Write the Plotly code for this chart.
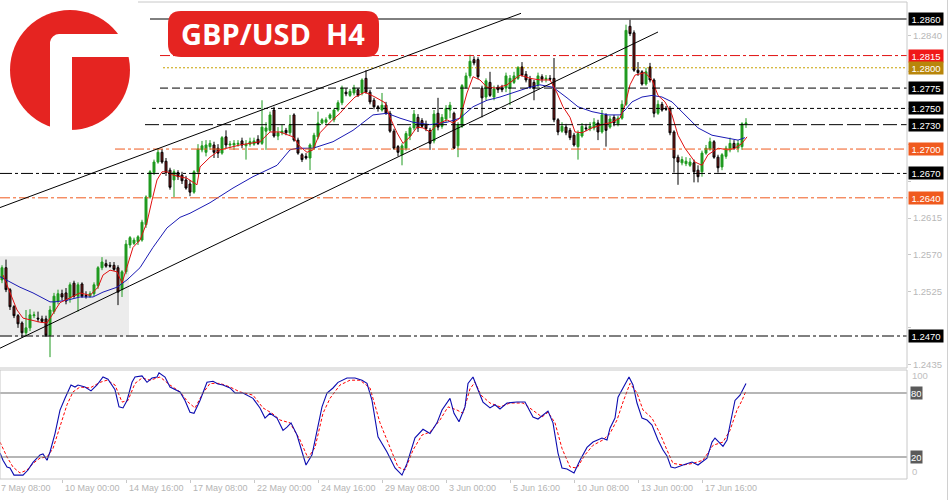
import plotly.graph_objects as go

# ---------------- data ----------------
bar_idx = list(range(1, 188))
bar_open = [1.2539,1.2554,1.2527,1.2506,1.2495,1.2486,1.2474,1.2480,1.2495,1.2492,1.2491,1.2491,1.2471,1.2500,1.2513,1.2522,1.2523,1.2517,1.2535,1.2519,
1.2534,1.2520,1.2519,1.2522,1.2532,1.2554,1.2559,1.2557,1.2557,1.2554,1.2527,1.2549,1.2582,1.2584,1.2586,1.2588,1.2607,1.2641,1.2671,1.2684,
1.2696,1.2685,1.2674,1.2662,1.2671,1.2668,1.2662,1.2657,1.2647,1.2672,1.2699,1.2696,1.2703,1.2705,1.2701,1.2695,1.2715,1.2705,1.2705,1.2706,
1.2710,1.2704,1.2706,1.2706,1.2712,1.2707,1.2722,1.2723,1.2748,1.2716,1.2720,1.2723,1.2720,1.2742,1.2711,1.2693,1.2691,1.2689,1.2701,1.2715,
1.2732,1.2733,1.2738,1.2736,1.2748,1.2757,1.2770,1.2766,1.2769,1.2773,1.2769,1.2787,1.2770,1.2760,1.2752,1.2748,1.2754,1.2744,1.2722,1.2703,
1.2693,1.2701,1.2716,1.2726,1.2739,1.2735,1.2730,1.2723,1.2710,1.2744,1.2728,1.2737,1.2748,1.2744,1.2704,1.2728,1.2776,1.2790,1.2810,1.2810,
1.2775,1.2764,1.2782,1.2764,1.2776,1.2775,1.2775,1.2775,1.2782,1.2787,1.2801,1.2792,1.2786,1.2782,1.2779,1.2789,1.2786,1.2787,1.2787,1.2736,
1.2722,1.2727,1.2723,1.2717,1.2703,1.2716,1.2726,1.2725,1.2726,1.2732,1.2721,1.2742,1.2727,1.2739,1.2731,1.2738,1.2755,1.2851,1.2843,1.2797,
1.2795,1.2780,1.2801,1.2785,1.2744,1.2755,1.2750,1.2750,1.2721,1.2690,1.2683,1.2682,1.2680,1.2683,1.2674,1.2672,1.2695,1.2700,1.2709,1.2690,
1.2678,1.2691,1.2699,1.2707,1.2701,1.2703,1.2731]
bar_high = [1.2557,1.2564,1.2529,1.2508,1.2497,1.2488,1.2502,1.2503,1.2500,1.2500,1.2495,1.2495,1.2507,1.2523,1.2527,1.2527,1.2529,1.2536,1.2538,1.2536,
1.2536,1.2525,1.2525,1.2536,1.2556,1.2567,1.2564,1.2561,1.2561,1.2557,1.2551,1.2588,1.2593,1.2591,1.2594,1.2613,1.2643,1.2674,1.2687,1.2701,
1.2700,1.2689,1.2677,1.2675,1.2674,1.2672,1.2667,1.2662,1.2674,1.2706,1.2710,1.2711,1.2711,1.2709,1.2706,1.2716,1.2723,1.2710,1.2711,1.2711,
1.2714,1.2711,1.2714,1.2714,1.2717,1.2760,1.2733,1.2746,1.2752,1.2727,1.2730,1.2726,1.2742,1.2744,1.2714,1.2695,1.2695,1.2707,1.2720,1.2746,
1.2738,1.2739,1.2744,1.2750,1.2760,1.2778,1.2775,1.2774,1.2779,1.2775,1.2787,1.2797,1.2773,1.2763,1.2754,1.2769,1.2758,1.2747,1.2725,1.2705,
1.2707,1.2722,1.2728,1.2748,1.2743,1.2738,1.2735,1.2726,1.2748,1.2763,1.2743,1.2754,1.2758,1.2746,1.2733,1.2780,1.2794,1.2816,1.2814,1.2813,
1.2778,1.2787,1.2795,1.2778,1.2779,1.2779,1.2794,1.2791,1.2795,1.2802,1.2807,1.2796,1.2790,1.2785,1.2794,1.2792,1.2791,1.2791,1.2812,1.2738,
1.2733,1.2731,1.2726,1.2720,1.2723,1.2732,1.2731,1.2733,1.2738,1.2736,1.2748,1.2744,1.2741,1.2742,1.2741,1.2760,1.2853,1.2859,1.2846,1.2807,
1.2797,1.2800,1.2806,1.2787,1.2760,1.2758,1.2753,1.2753,1.2723,1.2693,1.2691,1.2690,1.2689,1.2687,1.2680,1.2698,1.2705,1.2714,1.2711,1.2693,
1.2695,1.2704,1.2714,1.2711,1.2711,1.2733,1.2738]
bar_low = [1.2535,1.2524,1.2502,1.2492,1.2480,1.2468,1.2470,1.2476,1.2492,1.2487,1.2486,1.2469,1.2444,1.2497,1.2509,1.2514,1.2509,1.2511,1.2517,1.2500,
1.2517,1.2516,1.2517,1.2519,1.2528,1.2551,1.2554,1.2554,1.2550,1.2508,1.2518,1.2546,1.2578,1.2582,1.2582,1.2586,1.2603,1.2639,1.2668,1.2682,
1.2682,1.2667,1.2650,1.2641,1.2662,1.2657,1.2650,1.2642,1.2645,1.2669,1.2696,1.2691,1.2699,1.2689,1.2689,1.2693,1.2701,1.2701,1.2699,1.2703,
1.2701,1.2687,1.2703,1.2704,1.2705,1.2705,1.2699,1.2721,1.2714,1.2711,1.2717,1.2717,1.2717,1.2709,1.2693,1.2684,1.2687,1.2674,1.2699,1.2712,
1.2730,1.2731,1.2736,1.2733,1.2746,1.2754,1.2765,1.2764,1.2766,1.2764,1.2766,1.2768,1.2755,1.2749,1.2746,1.2746,1.2742,1.2720,1.2699,1.2691,
1.2680,1.2698,1.2711,1.2723,1.2721,1.2726,1.2722,1.2699,1.2707,1.2723,1.2725,1.2733,1.2738,1.2700,1.2690,1.2726,1.2774,1.2787,1.2803,1.2786,
1.2739,1.2760,1.2764,1.2760,1.2769,1.2770,1.2770,1.2754,1.2780,1.2785,1.2789,1.2782,1.2774,1.2760,1.2776,1.2782,1.2782,1.2784,1.2733,1.2717,
1.2720,1.2717,1.2711,1.2703,1.2687,1.2714,1.2722,1.2722,1.2723,1.2711,1.2719,1.2703,1.2725,1.2728,1.2728,1.2736,1.2753,1.2839,1.2795,1.2790,
1.2778,1.2778,1.2782,1.2739,1.2742,1.2746,1.2747,1.2717,1.2671,1.2656,1.2680,1.2679,1.2678,1.2659,1.2659,1.2666,1.2693,1.2698,1.2688,1.2671,
1.2674,1.2688,1.2696,1.2699,1.2696,1.2699,1.2726]
bar_close = [1.2554,1.2527,1.2506,1.2495,1.2485,1.2474,1.2480,1.2496,1.2496,1.2491,1.2488,1.2471,1.2502,1.2519,1.2522,1.2518,1.2513,1.2533,1.2519,1.2533,
1.2519,1.2519,1.2522,1.2533,1.2554,1.2561,1.2556,1.2556,1.2552,1.2524,1.2549,1.2583,1.2591,1.2588,1.2592,1.2610,1.2641,1.2672,1.2684,1.2696,
1.2684,1.2671,1.2653,1.2672,1.2666,1.2661,1.2652,1.2647,1.2672,1.2700,1.2704,1.2705,1.2707,1.2696,1.2695,1.2714,1.2705,1.2706,1.2707,1.2707,
1.2705,1.2706,1.2709,1.2710,1.2707,1.2727,1.2726,1.2742,1.2716,1.2720,1.2722,1.2720,1.2730,1.2711,1.2695,1.2687,1.2689,1.2705,1.2717,1.2732,
1.2736,1.2736,1.2742,1.2748,1.2757,1.2775,1.2768,1.2771,1.2775,1.2766,1.2785,1.2770,1.2758,1.2752,1.2750,1.2754,1.2744,1.2722,1.2701,1.2696,
1.2704,1.2719,1.2726,1.2743,1.2726,1.2728,1.2725,1.2707,1.2743,1.2727,1.2739,1.2750,1.2754,1.2701,1.2730,1.2778,1.2790,1.2808,1.2806,1.2789,
1.2763,1.2784,1.2766,1.2774,1.2773,1.2773,1.2790,1.2787,1.2790,1.2800,1.2791,1.2785,1.2776,1.2775,1.2790,1.2786,1.2787,1.2786,1.2736,1.2721,
1.2728,1.2720,1.2714,1.2705,1.2719,1.2728,1.2725,1.2728,1.2733,1.2721,1.2742,1.2723,1.2737,1.2732,1.2738,1.2755,1.2846,1.2842,1.2797,1.2794,
1.2780,1.2795,1.2785,1.2744,1.2755,1.2748,1.2749,1.2720,1.2689,1.2684,1.2687,1.2685,1.2684,1.2672,1.2666,1.2695,1.2701,1.2709,1.2690,1.2677,
1.2693,1.2701,1.2707,1.2701,1.2707,1.2731,1.2732]

ma_slow_x = [0.5,3,5.5,8.75,13,14.25,17.25,20.5,23.75,26.25,29.75,32.25,35.5,38.75,42.25,45.5,48,53,58.75,63.75,69.75,73,74.75,78.75,83.75,88.75,
93.75,97.25,100.5,103.75,108,112.25,115.5,118.75,122.25,125.5,128.75,132.25,135.5,138.75,142.25,145,148.5,152.5,155.5,156.75,158.5,161,163.5,
166,168.5,171.75,175,178.5,181.75,185,186.75]
ma_slow = [1.2543,1.2536,1.2530,1.2523,1.2512,1.2512,1.2514,1.2518,1.2518,1.2524,1.2530,1.2539,1.2554,1.2579,1.2603,1.2616,1.2621,1.2634,1.2652,
1.2666,1.2680,1.2699,1.2701,1.2701,1.2709,1.2723,1.2742,1.2744,1.2738,1.2733,1.2730,1.2733,1.2738,1.2752,1.2760,1.2764,1.2769,1.2775,1.2779,
1.2776,1.2763,1.2752,1.2746,1.2742,1.2742,1.2748,1.2758,1.2764,1.2766,1.2764,1.2758,1.2742,1.2726,1.2717,1.2714,1.2711,1.2714]

ma_fast_x = [1.25,3,4.75,6.25,8,10.5,12.25,13.75,15.5,18,20.5,23,25,26.25,28,29.75,31,32.25,33.75,35.5,37.25,38.5,39.75,41,42.25,43.75,47.25,
49.75,50.5,53,55.5,60.5,65.5,68,70.5,73.75,75.5,77.25,78.75,80.5,83,85.5,87.25,89.25,91.75,94.25,96.75,98,99.75,101.25,103,104.75,106.25,108,
109.75,112.25,113.75,115.5,117.25,118.75,120.5,122.25,124.75,127.25,130.5,133,135.5,138,139.75,141.25,143,144.25,146,148.5,151,153.5,155.5,
156.75,158,159.25,161.75,163.5,165,166.75,168.5,170,171.75,174.25,176,177.5,180,182.5,184.25,186,187.25]
ma_fast = [1.2545,1.2523,1.2502,1.2492,1.2490,1.2487,1.2486,1.2498,1.2511,1.2517,1.2523,1.2520,1.2530,1.2545,1.2551,1.2549,1.2535,1.2555,1.2579,
1.2588,1.2610,1.2637,1.2662,1.2672,1.2672,1.2668,1.2664,1.2656,1.2678,1.2690,1.2699,1.2705,1.2709,1.2721,1.2721,1.2715,1.2703,1.2696,1.2699,
1.2720,1.2733,1.2744,1.2754,1.2764,1.2770,1.2764,1.2757,1.2739,1.2720,1.2707,1.2715,1.2727,1.2726,1.2721,1.2730,1.2736,1.2732,1.2738,1.2769,
1.2789,1.2785,1.2776,1.2775,1.2779,1.2791,1.2787,1.2785,1.2785,1.2769,1.2752,1.2739,1.2721,1.2720,1.2726,1.2730,1.2733,1.2738,1.2754,1.2779,
1.2791,1.2794,1.2785,1.2766,1.2758,1.2742,1.2717,1.2701,1.2684,1.2680,1.2693,1.2701,1.2699,1.2701,1.2707,1.2715]

stoch_main_x = [0.5,1.25,2.25,3,4,6.25,7.5,8.75,10.5,11.25,12.25,13,14.25,15.5,16.75,18.25,19.25,20,21.75,23.25,24.75,26.25,27.5,29.25,30.25,
31.25,32.25,33.5,34.25,36,37.25,38.5,39.75,40.25,41.75,43,45.5,46.75,48,49,50.5,52.25,53.75,55,56.25,58,59.25,61.25,63.75,65.5,66.75,68,69.75,
71.25,72.25,73.25,74.75,76,77,78.5,79.75,81,82.25,83.75,85,87.25,89.25,91,92.25,93.5,95,97.25,99.25,101,102.25,104.25,106.25,108,109.75,111,
113,114,115.25,116.75,117.5,118.75,120,121.25,123,124.25,125.5,127.25,129.75,131.75,133.75,135,137.5,138.75,140,141,142.25,144,145.5,147.25,
148.75,151,152.25,153,154.25,155,156.25,157.75,158.75,159.75,161,162.25,163.5,165,166.25,167.25,168.25,169.25,171.25,173.5,175,177.25,178.5,
179.25,181.25,182.25,183,184.25,185.5,187]
stoch_main = [23.7,17,10.6,9.7,3,3,7.8,15,22,22.8,17,24.7,42,64,75,87.5,85.6,87.5,85.6,82,87.5,95,93,83,67,66,73,90,95,96,90,94,95,99,95,85.6,
81,73,62,61,73,90,91,88.4,87.5,84.7,80,80,75,66,56.5,61,56.5,45,48,52,40.6,23.7,12.5,22,45,67,80,84.7,90,94,94,92,89,73,39,24.7,9.7,3,14,38,
46,42,52,64,75,61,53,67,89,95,83,71.5,66,69,65,70.6,71.5,71.5,57.5,55.6,63,52,23.7,9.7,8.7,5,17,29,34,37.8,36,47,56.5,76,84.7,95,87.5,70.6,
56.5,54.7,50,36,26.5,21,10.6,9.7,12.5,15.3,12.5,19,34,37.8,30,36,50,73,78,89]

stoch_sig_x = [0.5,2.25,3.75,5.5,7.25,8.75,10.5,12.25,13.75,15.5,17.25,18.75,20.5,23,25.5,27.25,29.25,31,32.5,34.25,36,38,40.5,43,45.5,47.5,
49.25,51.25,53,55.5,58,60.5,63.75,66.25,68.5,70.5,73,75.5,77.5,79.25,81.25,83,85.5,88,90.5,93,95.5,98,100,101.75,103.75,106,108,110.5,112.5,
114.75,116.25,118,119.25,120.75,123,125.5,128,131.25,133.75,136,137.5,139.25,141,143,144.75,146.75,148.75,151.25,153,154.75,156.25,158,
159.75,161.25,163.5,165.5,167.25,168.75,171.25,173.75,176.25,178.75,181.25,183,184.75,186,187]
stoch_sig = [34,20,10.6,5,7.8,14,19,20,28,48,69,81,85.6,84.7,90,92,87.5,71.5,73,89,94,92,95,87.5,81,71.5,66,80,89,89,85.6,81,78,66,61,54.7,52,
36,19,29,61,75,87.5,92,92,84.7,52,29,10.6,7.8,26.5,40.6,43.4,54.7,67,64,61,84,90,78,70.6,67,70.6,70.6,64,57.5,62,52,28,10.6,9.7,22,31,36,42,
54.7,71.5,89,80,64,56.5,42,26.5,14,12.5,14,17,31,34,45,64,73,82]

level_price = [1.2860, 1.2815, 1.2800, 1.2775, 1.2750, 1.2730, 1.2700, 1.2670, 1.2640, 1.2470]
level_start = [38, 40.5, 41.25, 40.5, 38.5, 36.75, 29.25, 0.5, 0.5, 0.5]
level_color = ["#000000", "#e01010", "#c8a000", "#000000", "#000000", "#000000", "#f05a1e", "#000000", "#f05a1e", "#000000"]
level_dash = ["solid", "10px,3px,3px,3px", "2px,2px", "8px,4px", "4px,3px", "14px,4px", "10px,3px,3px,3px",
              "12px,3px,3px,3px", "10px,3px,3px,3px", "12px,3px,3px,3px"]
level_label_bg = ["#000000", "#f01818", "#b8860b", "#000000", "#000000", "#000000", "#f05a1e", "#000000", "#f05a1e", "#000000"]

axis_ticks = [1.2435, 1.2480, 1.2525, 1.2570, 1.2615, 1.2660, 1.2705, 1.2750, 1.2795, 1.2840]
axis_tick_text = ["1.2435", "", "1.2525", "1.2570", "1.2615", "", "", "", "", "1.2840"]

trend_x = [[0.5, 130.75], [0.5, 165.0]]
trend_y = [[1.2628, 1.2867], [1.2455, 1.2844]]

zone_x = [0.5, 32.75]
zone_y = [1.2469, 1.2568]

time_tick_idx = [0, 16, 32, 48, 64, 80, 96, 112, 128, 144, 160, 176]
time_tick_lbl = ["7 May 08:00", "10 May 00:00", "14 May 16:00", "17 May 08:00", "22 May 00:00", "24 May 16:00",
                 "29 May 08:00", "3 Jun 00:00", "5 Jun 16:00", "10 Jun 08:00", "13 Jun 00:00", "17 Jun 16:00"]

# ---------------- layout helpers ----------------
W, H = 950, 500
ML, MR, MT, MB = 0, 43, 2, 21
PW, PH = W - ML - MR, H - MT - MB
def pxx(x):
    return (x - ML) / PW
def pxy(y):
    return (H - MB - y) / PH

X_RANGE = [0.5, 227.25]
P_RANGE = [1.243063, 1.288091]
S_RANGE = [-0.625, 101.56]
def bar2paper(i):
    return (i - X_RANGE[0]) / (X_RANGE[1] - X_RANGE[0])

fig = go.Figure()

fig.add_trace(go.Candlestick(
    x=bar_idx, open=bar_open, high=bar_high, low=bar_low, close=bar_close,
    increasing=dict(line=dict(color="#1f9a1f", width=1), fillcolor="#1f9a1f"),
    decreasing=dict(line=dict(color="#000000", width=1), fillcolor="#8b1a1a"),
    whiskerwidth=0, hoverinfo="skip", xaxis="x", yaxis="y", showlegend=False))

fig.add_trace(go.Scatter(x=ma_slow_x, y=ma_slow, mode="lines", line=dict(color="#1a1ab4", width=1),
                         hoverinfo="skip", showlegend=False, xaxis="x", yaxis="y"))
fig.add_trace(go.Scatter(x=ma_fast_x, y=ma_fast, mode="lines", line=dict(color="#e01010", width=1),
                         hoverinfo="skip", showlegend=False, xaxis="x", yaxis="y"))

fig.add_trace(go.Scatter(x=stoch_sig_x, y=stoch_sig, mode="lines", line=dict(color="#ff0000", width=1, dash="3px,2px"),
                         hoverinfo="skip", showlegend=False, xaxis="x2", yaxis="y2"))
fig.add_trace(go.Scatter(x=stoch_main_x, y=stoch_main, mode="lines", line=dict(color="#0c0cb0", width=1.1),
                         hoverinfo="skip", showlegend=False, xaxis="x2", yaxis="y2"))

shapes = []
annotations = []

# zone rectangle
shapes.append(dict(type="rect", xref="x", yref="y", x0=zone_x[0], x1=zone_x[1], y0=zone_y[0], y1=zone_y[1],
                   fillcolor="#ececec", line=dict(width=0), layer="below"))

# horizontal levels
for p, s, c, d in zip(level_price, level_start, level_color, level_dash):
    shapes.append(dict(type="line", xref="x", yref="y", x0=s, x1=X_RANGE[1], y0=p, y1=p,
                       line=dict(color=c, width=1, dash=d)))

# trend lines
for tx, ty in zip(trend_x, trend_y):
    shapes.append(dict(type="line", xref="x", yref="y", x0=tx[0], x1=tx[1], y0=ty[0], y1=ty[1],
                       line=dict(color="#000000", width=1)))

# stochastic levels
for v in (80, 20):
    shapes.append(dict(type="line", xref="paper", yref="y2", x0=0, x1=1, y0=v, y1=v,
                       line=dict(color="#6e6e6e", width=1.2)))

# frames
border = "#c8c8c8"
shapes.append(dict(type="line", xref="paper", yref="paper", x0=pxx(138), x1=1, y0=pxy(2), y1=pxy(2), line=dict(color=border, width=1)))
shapes.append(dict(type="line", xref="paper", yref="paper", x0=1, x1=1, y0=pxy(368), y1=pxy(2), line=dict(color=border, width=1)))
shapes.append(dict(type="line", xref="paper", yref="paper", x0=0, x1=1, y0=pxy(368), y1=pxy(368), line=dict(color=border, width=1)))
shapes.append(dict(type="rect", xref="paper", yref="paper", x0=0, x1=1, y0=pxy(479), y1=pxy(370), line=dict(color=border, width=1)))
shapes.append(dict(type="line", xref="paper", yref="paper", x0=pxx(947.5), x1=pxx(947.5), y0=pxy(500), y1=pxy(0), line=dict(color="#d0d0d0", width=1)))

# logo
RED = "#e52421"
shapes.append(dict(type="circle", xref="paper", yref="paper", x0=pxx(10), x1=pxx(130), y0=pxy(130), y1=pxy(10),
                   fillcolor=RED, line=dict(width=0), layer="above"))
def ppath(points):
    s = ""
    for i, (x, y) in enumerate(points):
        s += ("M" if i == 0 else "L") + f"{pxx(x):.5f},{pxy(y):.5f} "
    return s + "Z"
shapes.append(dict(type="path", xref="paper", yref="paper",
                   path=ppath([(50, 42), (51, 39), (53, 36.5), (56, 34.5), (59, 34), (133, 34), (133, 57), (72, 57), (72, 131), (50, 131)]),
                   fillcolor="white", line=dict(width=0), layer="above"))

# title box
def rrect(x0, y0, x1, y1, r):
    rx, ry = r / PW, r / PH
    X0, X1, Y0, Y1 = pxx(x0), pxx(x1), pxy(y1), pxy(y0)
    return (f"M{X0+rx},{Y0} L{X1-rx},{Y0} Q{X1},{Y0} {X1},{Y0+ry} L{X1},{Y1-ry} Q{X1},{Y1} {X1-rx},{Y1} "
            f"L{X0+rx},{Y1} Q{X0},{Y1} {X0},{Y1-ry} L{X0},{Y0+ry} Q{X0},{Y0} {X0+rx},{Y0} Z")
shapes.append(dict(type="path", xref="paper", yref="paper", path=rrect(168, 11, 379, 57, 13),
                   fillcolor=RED, line=dict(width=0), layer="above"))
annotations.append(dict(xref="paper", yref="paper", x=pxx(273), y=pxy(34), text="GBP/USD  H4", showarrow=False,
                        font=dict(family="Open Sans", size=29, color="white", weight="bold"), xanchor="center", yanchor="middle"))

# price labels
for p, bg in zip(level_price, level_label_bg):
    annotations.append(dict(xref="paper", yref="y", x=1, y=p, xanchor="left", yanchor="middle", xshift=1,
                            text=f"{p:.4f}", showarrow=False, bgcolor=bg, width=34, height=12, borderpad=0,
                            font=dict(family="Liberation Sans", size=9.5, color="white")))

# stochastic labels
for v, t, bg in ((100, "100", None), (80, "80", "#5a5a5a"), (20, "20", "#5a5a5a"), (0, "0", None)):
    yv = v
    if v == 100:
        yv = 96
    if v == 0:
        yv = 6
    a = dict(xref="paper", yref="y2", x=1, y=yv, xanchor="left", yanchor="middle", xshift=3, text=t, showarrow=False,
             font=dict(family="Liberation Sans", size=9.5, color="white" if bg else "#c0c0c0"))
    if bg:
        a.update(bgcolor=bg, borderpad=0, height=12)
    annotations.append(a)

# time labels (paper-referenced so the first, partly clipped one is still drawn)
for ti, tl in zip(time_tick_idx, time_tick_lbl):
    annotations.append(dict(xref="paper", yref="paper", x=bar2paper(ti), y=pxy(488), xanchor="left", yanchor="middle", xshift=1,
                            text=tl, showarrow=False, font=dict(family="Liberation Sans", size=9, color="#b4b4b4")))

fig.update_layout(
    width=W, height=H, margin=dict(l=ML, r=MR, t=MT, b=MB),
    paper_bgcolor="white", plot_bgcolor="white", showlegend=False,
    shapes=shapes, annotations=annotations, hovermode=False,
    xaxis=dict(domain=[0, 1], range=X_RANGE, anchor="y", showgrid=False, zeroline=False, showticklabels=False,
               ticks="", rangeslider=dict(visible=False), fixedrange=True),
    yaxis=dict(domain=[pxy(368), 1], range=P_RANGE, side="right", showgrid=False, zeroline=False,
               tickvals=axis_ticks, ticktext=axis_tick_text, ticks="outside", ticklen=3,
               tickcolor="#c8c8c8", tickfont=dict(family="Liberation Sans", size=9.5, color="#b8b8b8"), fixedrange=True),
    xaxis2=dict(domain=[0, 1], range=X_RANGE, anchor="y2", showgrid=False, zeroline=False, showticklabels=False,
                tickvals=time_tick_idx, ticks="outside", ticklen=3, tickcolor="#c8c8c8", fixedrange=True),
    yaxis2=dict(domain=[0, pxy(370)], range=S_RANGE, side="right", showgrid=False, zeroline=False,
                showticklabels=False, fixedrange=True),
)

fig.write_html("out.html", config={"displayModeBar": False},
               post_script="document.body.style.margin='0px';document.body.style.overflow='hidden';")
